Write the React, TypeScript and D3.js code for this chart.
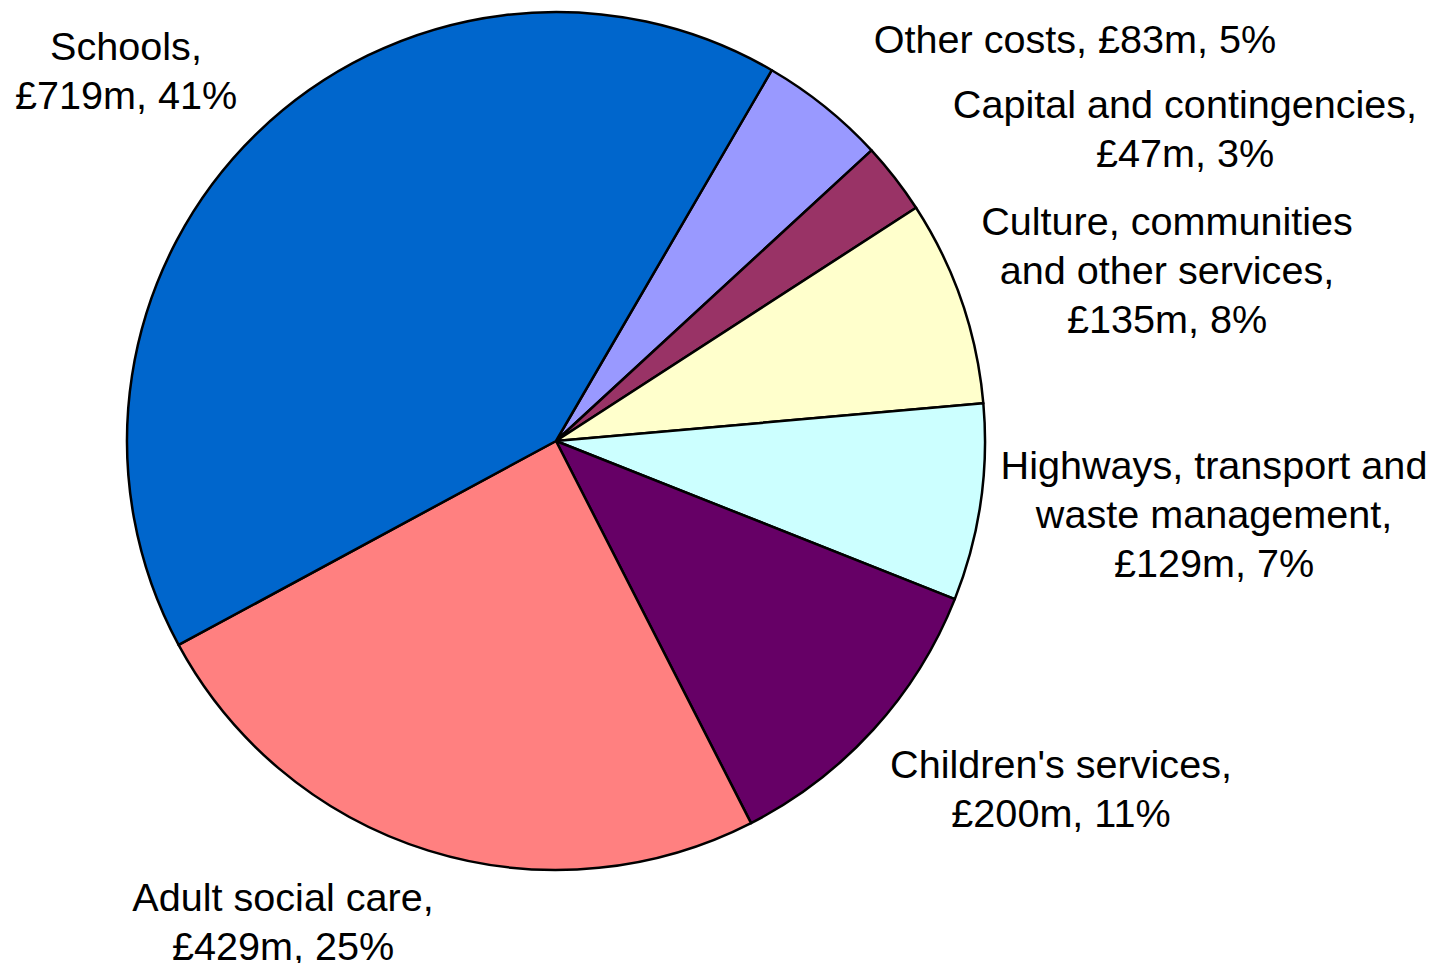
import React, { useMemo } from 'react';
import { pie, arc, PieArcDatum } from 'd3';

// Spending by service, £m (clockwise from the Schools / Other costs boundary)
const categories = [
    'Other costs',
    'Capital and contingencies',
    'Culture, communities and other services',
    'Highways, transport and waste management',
    "Children's services",
    'Adult social care',
    'Schools',
];
const values = [83, 47, 135, 129, 200, 429, 719];
const colors = ['#9999FF', '#993366', '#FFFFCC', '#CCFFFF', '#660066', '#FF8080', '#0066CC'];

// How each category name is broken across lines in its label
const nameLines = [
    ['Other costs,'],
    ['Capital and contingencies,'],
    ['Culture, communities', 'and other services,'],
    ['Highways, transport and', 'waste management,'],
    ["Children's services,"],
    ['Adult social care,'],
    ['Schools,'],
];

// Label anchor (centre of text, first baseline) relative to the pie centre
const labelLayout = [
    { dx: 519, dy: -388, inline: true },
    { dx: 629, dy: -323, inline: false },
    { dx: 611, dy: -206, inline: false },
    { dx: 658, dy: 38, inline: false },
    { dx: 505, dy: 337, inline: false },
    { dx: -273, dy: 470, inline: false },
    { dx: -430, dy: -381, inline: false },
];

const START_DEG = 30.2;

const App: React.FC = () => {
    const width = 1434;
    const height = 963;
    const cx = 556;
    const cy = 441;
    const radius = 429;
    const fontSize = 39.6;
    const lineHeight = 49;

    const arcs = useMemo(() => {
        const start = (START_DEG * Math.PI) / 180;
        return pie<number>()
            .sort(null)
            .startAngle(start)
            .endAngle(start + 2 * Math.PI)(values);
    }, []);

    const total = values.reduce((a, b) => a + b, 0);
    const arcGen = arc<PieArcDatum<number>>().innerRadius(0).outerRadius(radius);

    return (
        <svg
            width={width}
            height={height}
            style={{ position: 'absolute', left: 0, top: 0, background: '#fff' }}
        >
            <g transform={`translate(${cx},${cy})`}>
                {arcs.map((a, i) => (
                    <path
                        key={categories[i]}
                        d={arcGen(a) || ''}
                        fill={colors[i]}
                        stroke="#000"
                        strokeWidth={2.5}
                        strokeLinejoin="round"
                    />
                ))}

                {/* Labels */}
                <g fontFamily="'Liberation Sans', Arial, sans-serif" fontSize={fontSize} fill="#000" textAnchor="middle">
                    {categories.map((c, i) => {
                        const valueText = `£${values[i]}m, ${Math.round((values[i] / total) * 100)}%`;
                        const lay = labelLayout[i];
                        const lines = lay.inline
                            ? [`${nameLines[i].join(' ')} ${valueText}`]
                            : [...nameLines[i], valueText];
                        return (
                            <text key={c} x={lay.dx} y={lay.dy}>
                                {lines.map((l, j) => (
                                    <tspan key={j} x={lay.dx} dy={j === 0 ? 0 : lineHeight}>
                                        {l}
                                    </tspan>
                                ))}
                            </text>
                        );
                    })}
                </g>
            </g>
        </svg>
    );
};

export default App;
